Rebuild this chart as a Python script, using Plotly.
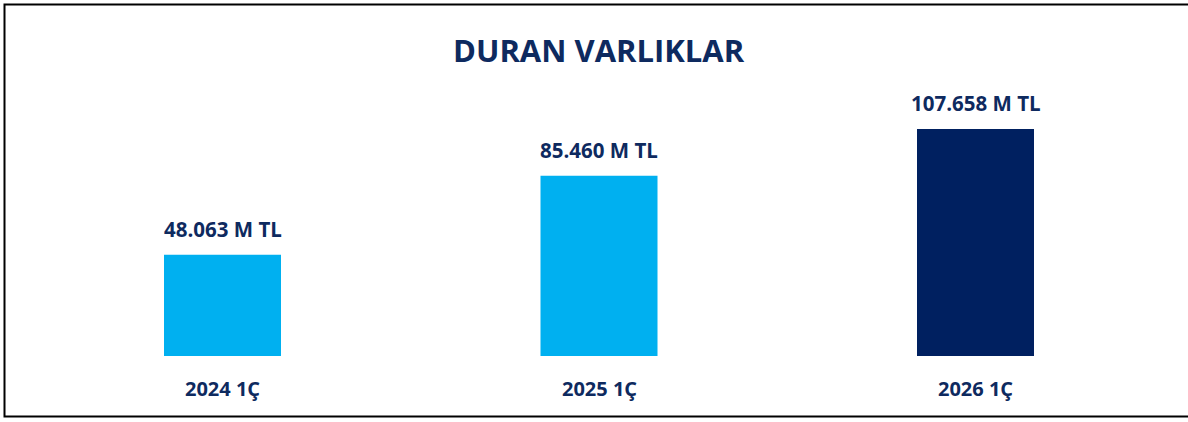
import plotly.graph_objects as go

categories = ["2024 1Ç", "2025 1Ç", "2026 1Ç"]
values = [48063, 85460, 107658]
value_labels = ["48.063 M TL", "85.460 M TL", "107.658 M TL"]
bar_colors = ["#00B0F0", "#00B0F0", "#002060"]
title_text = "DURAN VARLIKLAR"

W, H = 1188, 422
TEXT = "#0E2A5F"
FONT = "Open Sans"

# pixel geometry
step_px = 376.5
first_px = 222.5
base_px = 356.0
px_per_unit = 227.0 / 107658.0

x_range = [-first_px / step_px, (W - first_px) / step_px]
y_range = [-(H - base_px) / px_per_unit, base_px / px_per_unit]

fig = go.Figure()
fig.add_trace(go.Bar(
    x=categories, y=values,
    marker=dict(color=bar_colors, line=dict(width=0)),
    width=117 / step_px,
    hoverinfo="skip",
))

for c, v, t in zip(categories, values, value_labels):
    fig.add_annotation(x=c, y=v, text=f"<b>{t}</b>", showarrow=False,
                       xref="x", yref="y", yanchor="middle", yshift=26,
                       font=dict(family=FONT, size=20.5, color=TEXT))
    fig.add_annotation(x=c, y=0, text=f"<b>{c}</b>", showarrow=False,
                       xref="x", yref="y", yanchor="middle", yshift=-32,
                       font=dict(family=FONT, size=20, color=TEXT))

fig.add_annotation(x=599 / W, y=1 - 50 / H, xref="paper", yref="paper",
                   text=f"<b>{title_text}</b>", showarrow=False,
                   xanchor="center", yanchor="middle",
                   font=dict(family=FONT, size=31, color=TEXT))

fig.add_shape(type="rect", xref="paper", yref="paper",
              x0=4.5 / W, x1=1.01, y0=1 - 416.5 / H, y1=1 - 4.5 / H,
              line=dict(color="#000000", width=2), fillcolor="rgba(0,0,0,0)")

fig.update_layout(
    width=W, height=H,
    margin=dict(l=0, r=0, t=0, b=0),
    paper_bgcolor="white", plot_bgcolor="white",
    showlegend=False,
    xaxis=dict(visible=False, range=x_range, fixedrange=True),
    yaxis=dict(visible=False, range=y_range, fixedrange=True),
)

fig.write_html("out.html", config={"displayModeBar": False},
               post_script="document.body.style.margin='0';document.body.style.overflow='hidden';")
